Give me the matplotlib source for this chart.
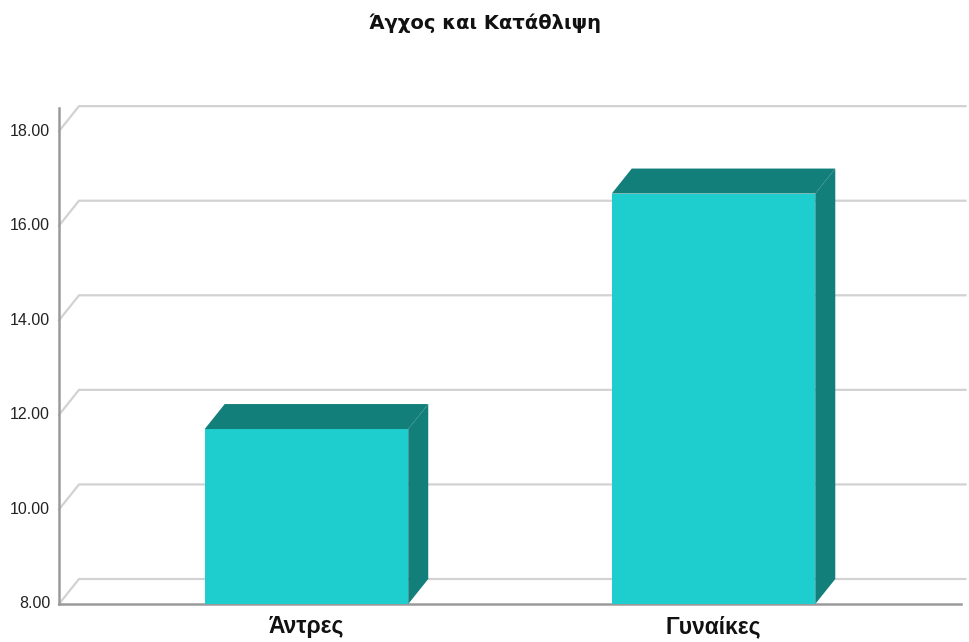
import matplotlib
matplotlib.use('Agg')
import matplotlib.pyplot as plt
import matplotlib.transforms as mtransforms
from matplotlib.patches import Polygon

plt.rcParams['font.family'] = ['Liberation Sans', 'DejaVu Sans']

# data
categories = ['Άντρες', 'Γυναίκες']
values = [11.70, 16.68]
yticks = [8, 10, 12, 14, 16, 18]
title = 'Άγχος και Κατάθλιψη'

FRONT = '#1ecece'
DARK = '#137f7b'
GRID = '#d2d2d2'
AXIS = '#9a9a9a'
DEPTH = (20, 25)  # pixels, right and up

fig = plt.figure(figsize=(9.69, 6.42), dpi=100)
W, H = 969, 642
# axes in pixels: left 59, right 961, bottom y=604, top y=107.5
ax = fig.add_axes([59 / W, (H - 604) / H, (961 - 59) / W, (604 - 107.5) / H])
ax.set_xlim(-0.608, 1.608)
ax.set_ylim(8, 18.5)
ax.axis('off')

def back(x, y):
    """shift a data point into the back plane by DEPTH pixels"""
    px, py = ax.transData.transform((x, y))
    return tuple(ax.transData.inverted().transform((px + DEPTH[0], py + DEPTH[1])))

x0, x1 = ax.get_xlim()
xright = x1 + (x1 - x0) * 0.005

# gridlines with the little diagonal at the wall
for v in yticks:
    bx, by = back(x0, v)
    ax.plot([x0, bx, xright], [v, by, by], color=GRID, lw=1.6, zorder=1,
            solid_joinstyle='miter', clip_on=False)

# axes
ax.plot([x0, x0], [8, 18.5], color=AXIS, lw=1.8, zorder=2, clip_on=False)
ax.plot([x0, x1], [8, 8], color=AXIS, lw=1.8, zorder=2, clip_on=False)

# bars
xs = list(range(len(categories)))
bw = 0.5
ax.bar(xs, [v - 8 for v in values], bottom=8, width=bw, color=FRONT, zorder=3)
for x, v in zip(xs, values):
    l, r = x - bw / 2, x + bw / 2
    top = [(l, v), (r, v), back(r, v), back(l, v)]
    side = [(r, 8), back(r, 8), back(r, v), (r, v)]
    ax.add_patch(Polygon(top, closed=True, facecolor=DARK, edgecolor='none', zorder=3))
    ax.add_patch(Polygon(side, closed=True, facecolor=DARK, edgecolor='none', zorder=3))

# tick labels
left_shift = ax.transData + mtransforms.ScaledTranslation(-0.09, 0, fig.dpi_scale_trans)
down_shift = ax.transData + mtransforms.ScaledTranslation(0, -0.115, fig.dpi_scale_trans)
for v in yticks:
    ax.text(x0, v, f'{v:.2f}', transform=left_shift, ha='right', va='center',
            fontsize=11.5, color='#222222')
for x, c in zip(xs, categories):
    ax.text(x, 8, c, transform=down_shift, ha='center', va='top', fontsize=16.5,
            fontweight='bold', color='#111111')

fig.text(485 / W, 1 - 23 / H, title, ha='center', va='center', fontsize=14,
         fontweight='bold', color='#111111', family=['DejaVu Sans'])

fig.savefig('out.png', dpi=100)
